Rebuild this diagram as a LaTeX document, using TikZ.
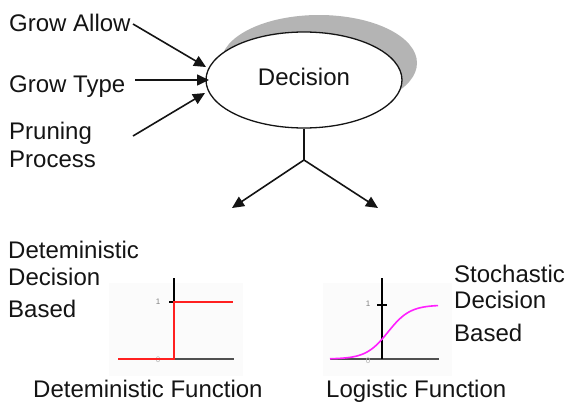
\documentclass[tikz,border=0pt]{standalone}
\usepackage{fontspec}
\setmainfont{Liberation Sans}
\usetikzlibrary{arrows.meta,shapes.geometric}
\definecolor{txt}{HTML}{141414}
\definecolor{shadowgray}{HTML}{B4B4B4}
\definecolor{axisgray}{HTML}{505050}
\definecolor{stepred}{HTML}{FF2020}
\definecolor{logmag}{HTML}{FF20FF}
\tikzset{
  lbl/.style={anchor=base west, inner sep=0pt, text=txt, font=\fontsize{24}{28}\selectfont},
  tiny/.style={inner sep=0pt, text=gray, font=\fontsize{8}{9}\selectfont},
  arr/.style={line width=1.6pt, draw=txt, -{Triangle[length=12pt,width=11pt]}},
  stem/.style={line width=1.6pt, draw=txt},
  yaxis/.style={line width=1.6pt, draw=black},
  xaxis/.style={line width=2pt, draw=axisgray},
  decbox/.style={ellipse, draw=txt, line width=1.3pt, fill=white, minimum width=196pt, minimum height=96pt, inner sep=0pt, text=txt, font=\fontsize{24}{28}\selectfont}
}
\begin{document}
\begin{tikzpicture}[x=1pt,y=-1pt]
\useasboundingbox (0,0) rectangle (568,407);
% shadow + decision ellipse
\fill[shadowgray] (319,63) ellipse [x radius=98, y radius=48];
\node[decbox] (dec) at (304,80) {\raisebox{7pt}{Decision}};
% input labels
\node[lbl] (ga) at (9,31) {Grow Allow};
\node[lbl] (gt) at (9,92) {Grow Type};
\node[lbl] (pr) at (9,139) {Pruning};
\node[lbl] (pp) at (9,167) {Process};
\coordinate (gaS) at (133,24);
\coordinate (gtS) at (135,80);
\coordinate (prS) at (133,136);
\coordinate (inA) at (206,67);
\coordinate (inB) at (209,80);
\coordinate (inC) at (205,93);
\draw[arr] (gaS) -- (inA);
\draw[arr] (gtS) -- (inB);
\draw[arr] (prS) -- (inC);
% fork
\coordinate (fork) at (304,160);
\coordinate (tipL) at (232,208);
\coordinate (tipR) at (378,208);
\draw[stem] (dec.south) -- (fork);
\draw[arr] (fork) -- (tipL);
\draw[arr] (fork) -- (tipR);
% left texts
\node[lbl] (d1) at (8,258) {Deteministic};
\node[lbl] (d2) at (8,285) {Decision};
\node[lbl] (d3) at (8,317) {Based};
\node[lbl] (df) at (33,397) {Deteministic Function};
% right texts
\node[lbl] (s1) at (454,282) {Stochastic};
\node[lbl] (s2) at (454,308) {Decision};
\node[lbl] (s3) at (454,341) {Based};
\node[lbl] (lf) at (326,397) {Logistic Function};
% left plot
\fill[black!1.5] (109,283) rectangle (243,376);
\draw[xaxis] (118,359) -- (234,359);
\draw[yaxis] (174,278) -- (174,359);
\draw[line width=1.2pt] (169,302) -- (174,302);
\node[tiny] (l1) at (158,302) {1};
\node[tiny,text=gray!60] (l0) at (158,360) {0};
\draw[stepred, line width=1.6pt] (118,359) -- (174,359) -- (174,302) -- (233,302);
% right plot
\fill[black!1.5] (323,283) rectangle (452,376);
\draw[xaxis] (330,359) -- (439,359);
\draw[yaxis] (382,278) -- (382,359);
\draw[line width=1.2pt] (377,305) -- (387,305);
\node[tiny] (r1) at (368,304) {1};
\node[tiny,text=gray!60] (r0) at (368,361) {0};
\draw[logmag, line width=1.6pt] plot[domain=330:438, samples=60, smooth] (\x, {359-54/(1+exp(-(\x-388)/11))});
\end{tikzpicture}
\end{document}
